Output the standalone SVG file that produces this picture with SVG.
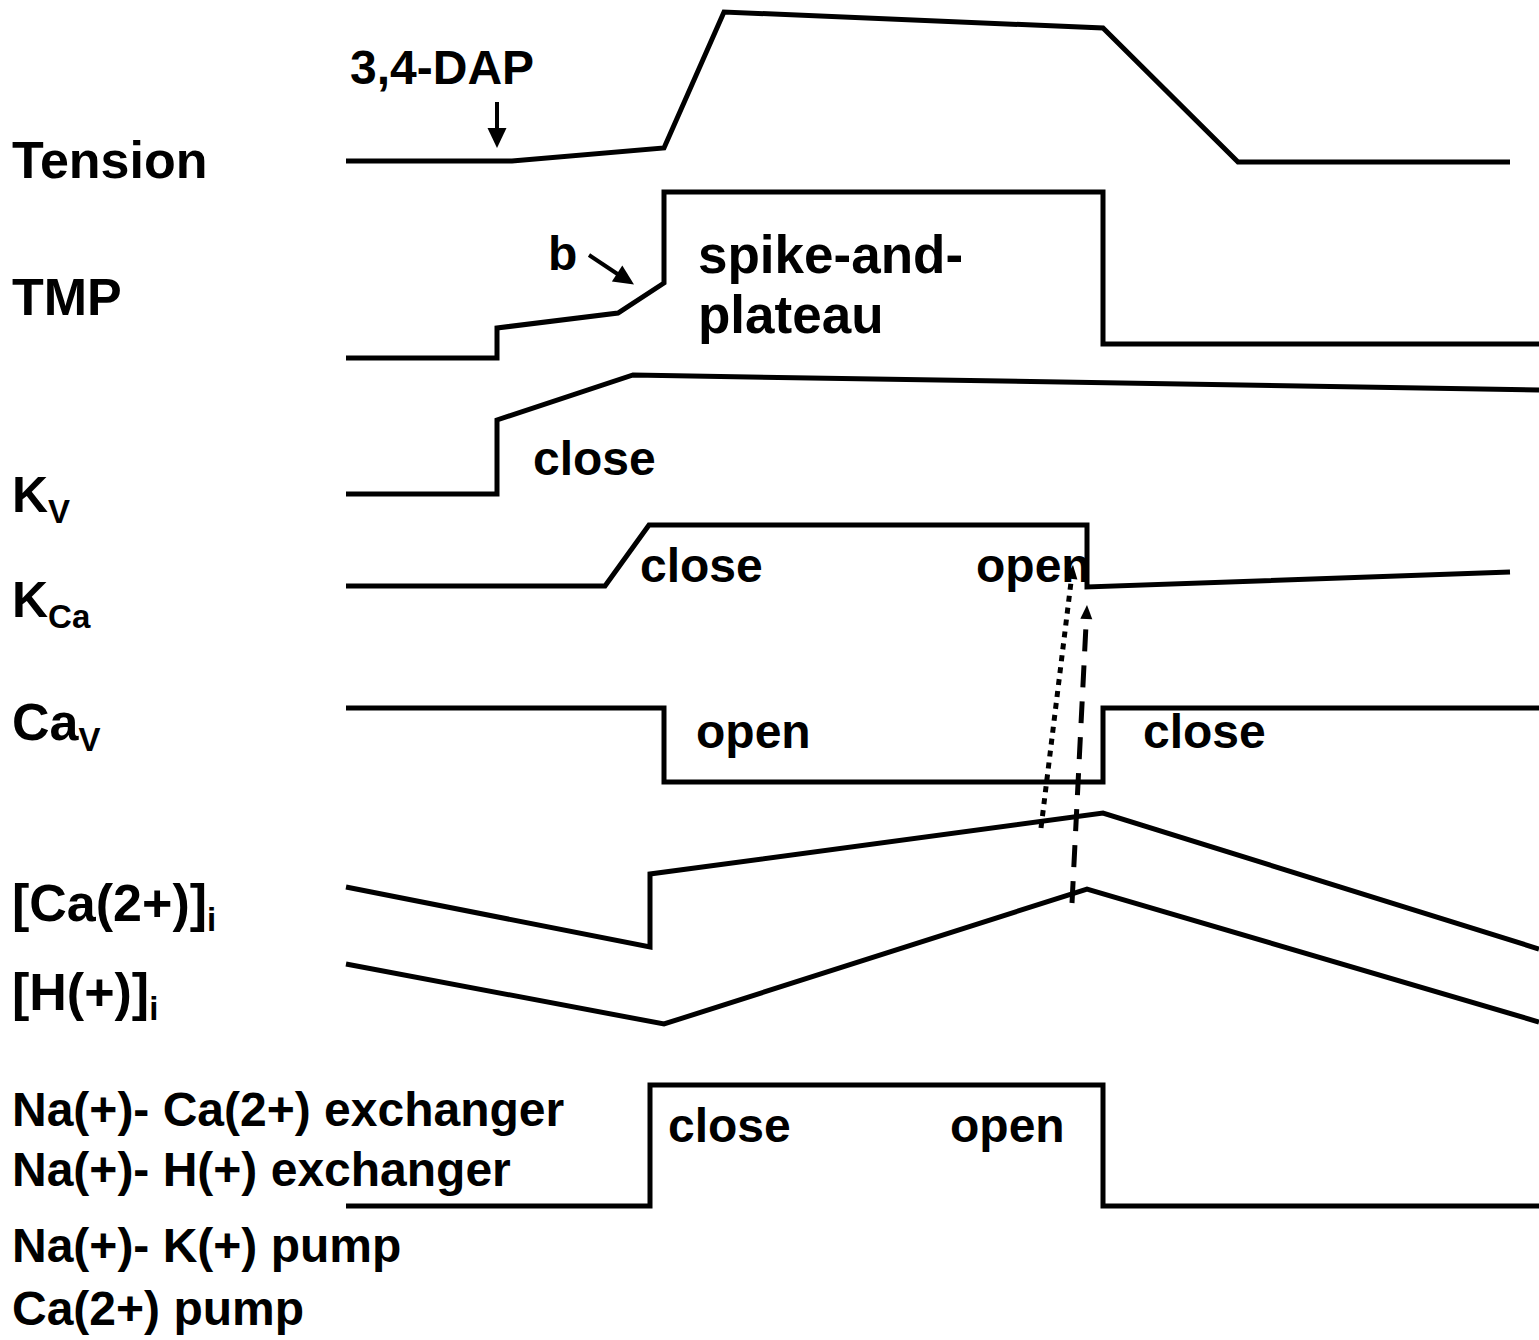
<svg xmlns="http://www.w3.org/2000/svg" width="1539" height="1340" viewBox="0 0 1539 1340">
<style>
text{font-family:"Liberation Sans",Arial,sans-serif;font-weight:bold;font-size:48px;fill:#000}
.big{font-size:52px}
.sub{font-size:33px}
.tr{fill:none;stroke:#000;stroke-width:5;stroke-linejoin:miter}
.ar{fill:none;stroke:#000;stroke-width:4}
.dt{fill:none;stroke:#000;stroke-width:5}
.hd{fill:#000;stroke:none}
</style>
<rect width="1539" height="1340" fill="#fff"/>
<g id="labels">
<text class="big" x="12" y="178">Tension</text>
<text class="big" x="12" y="315">TMP</text>
<text x="12" y="512" style="font-size:50px">K<tspan class="sub" dy="11">V</tspan></text>
<text x="12" y="617" style="font-size:50px">K<tspan class="sub" dy="11">Ca</tspan></text>
<text class="big" x="12" y="740">Ca<tspan class="sub" dy="11">V</tspan></text>
<text class="big" x="12" y="921">[Ca(2+)]<tspan class="sub" dy="10">i</tspan></text>
<text class="big" x="12" y="1010">[H(+)]<tspan class="sub" dy="10">i</tspan></text>
<text x="12" y="1126">Na(+)- Ca(2+) exchanger</text>
<text x="12" y="1186">Na(+)- H(+) exchanger</text>
<text x="12" y="1262">Na(+)- K(+) pump</text>
<text x="12" y="1325">Ca(2+) pump</text>
</g>
<g id="tension">
<path class="tr" d="M346,161 L512,161 L664,148 L724,12 L1103,28 L1238,162 L1510,162"/>
<text x="350" y="84">3,4-DAP</text>
</g>
<g id="tmp">
<path class="tr" d="M346,358 L497,358 L497,328 L618,313 L664,283 L664,192 L1103,192 L1103,344 L1539,344"/>
<text x="548" y="270">b</text>
<text x="698" y="273" style="font-size:53px">spike-and-</text>
<text x="698" y="333" style="font-size:53px">plateau</text>
</g>
<g id="kv">
<path class="tr" d="M346,494 L497,494 L497,420 L633,375 L1539,390"/>
<text x="533" y="475">close</text>
</g>
<g id="kca">
<path class="tr" d="M346,586 L605,586 L649,525 L1087,525 L1087,587 L1510,572"/>
<text x="640" y="582">close</text>
<text x="976" y="582">open</text>
</g>
<g id="cav">
<path class="tr" d="M346,708 L664,708 L664,782 L1103,782 L1103,708 L1539,708"/>
<text x="696" y="748">open</text>
<text x="1143" y="748">close</text>
</g>
<g id="cai">
<path class="tr" d="M346,887 L650,947 L650,874 L1103,813 L1539,949"/>
</g>
<g id="hi">
<path class="tr" d="M346,964 L664,1024 L1087,889 L1539,1022"/>
</g>
<g id="exchangers">
<path class="tr" d="M346,1206 L650,1206 L650,1085 L1103,1085 L1103,1206 L1539,1206"/>
<text x="668" y="1142">close</text>
<text x="950" y="1142">open</text>
</g>
<g id="connectors">
<line class="ar" x1="497" y1="102" x2="497" y2="130"/>
<polygon class="hd" points="487.5,128 506.5,128 497,148"/>
<line class="ar" x1="589" y1="255" x2="619" y2="275"/>
<polygon class="hd" points="611.9,281.4 622.3,265.6 634,284.5"/>
<line class="dt" x1="1041" y1="828" x2="1071.5" y2="578" stroke-dasharray="6,6"/>
<polygon class="hd" points="1077.4,579.6 1065.5,578.2 1073,565"/>
<line class="dt" x1="1072" y1="903" x2="1086.3" y2="619" stroke-dasharray="22,14"/>
<polygon class="hd" points="1092.3,619.3 1080.3,618.7 1087,605"/>
</g>
</svg>
